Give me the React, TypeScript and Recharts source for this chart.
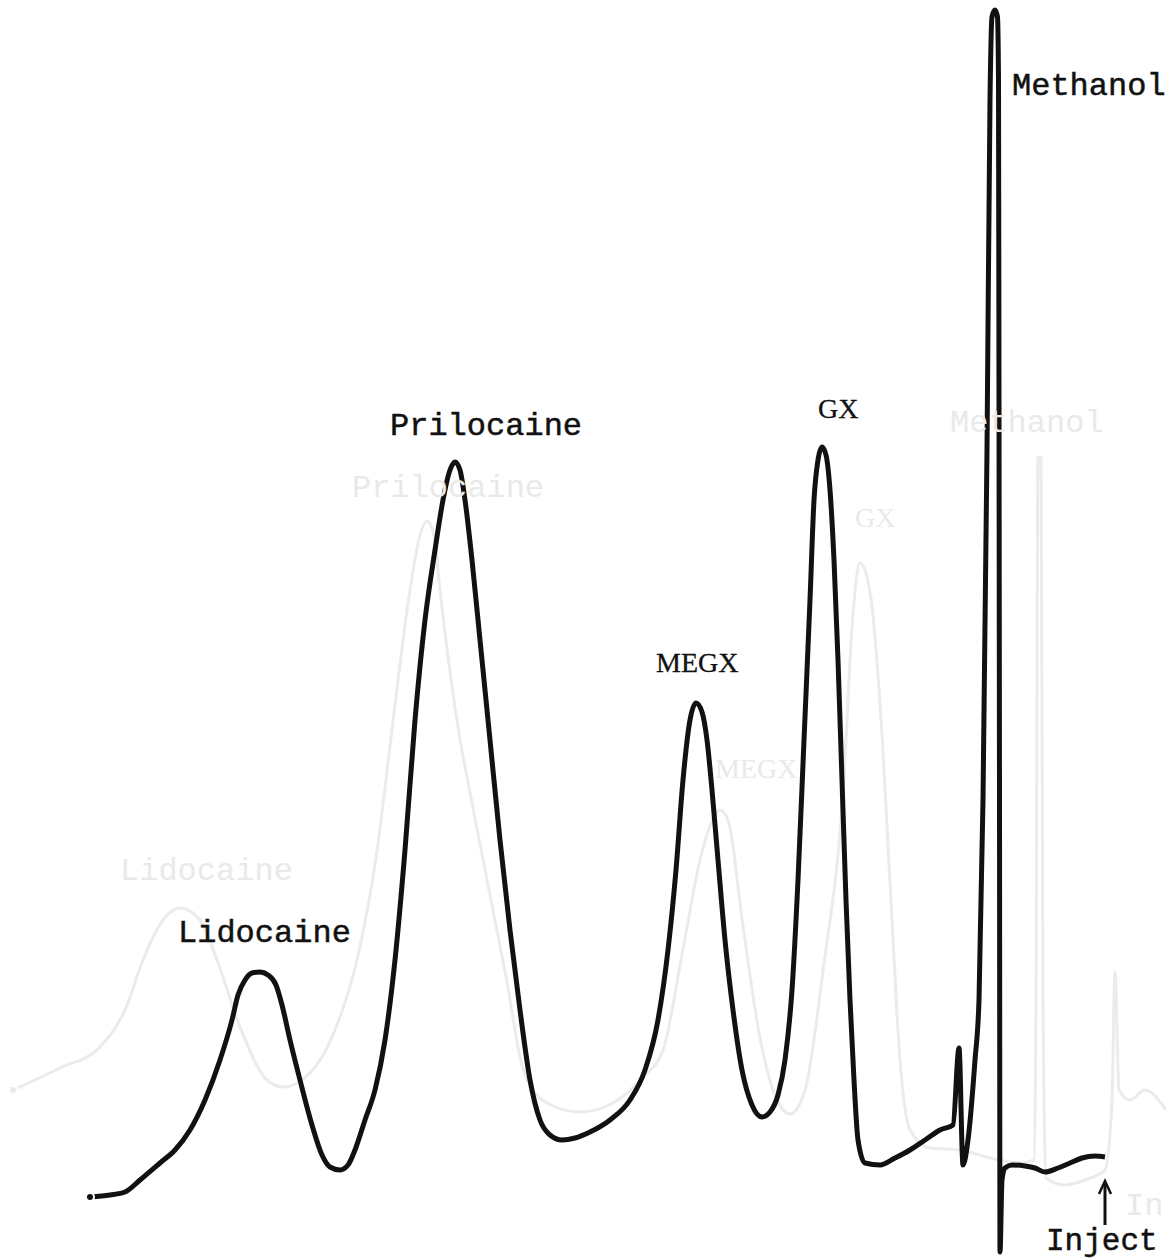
import React from 'react';
import { ComposedChart, Line, Scatter, XAxis, YAxis } from 'recharts';

// retention time (min, counted back from injection) vs detector response (arbitrary units)
const sampleTrace: [number, number][] = [
  [10.15, 6.3], [9.95, 6.5], [9.8, 6.8], [9.65, 8.0], [9.45, 9.7], [9.3, 11.0], [9.15, 13.0],
  [9.0, 16.0], [8.85, 20.0], [8.73, 24.0], [8.67, 26.5], [8.6, 28.0], [8.53, 28.7], [8.45, 28.8],
  [8.37, 28.5], [8.29, 27.5], [8.23, 25.5], [8.15, 22.0], [8.05, 18.0], [7.93, 13.5], [7.83, 10.5],
  [7.75, 9.3], [7.65, 9.0], [7.57, 9.5], [7.5, 11.0], [7.4, 14.0], [7.3, 17.0], [7.2, 22.0],
  [7.1, 30.0], [7.0, 41.0], [6.9, 54.0], [6.8, 64.0], [6.7, 71.0], [6.62, 76.0], [6.55, 79.0],
  [6.5, 79.8], [6.45, 79.0], [6.4, 76.0], [6.33, 70.0], [6.25, 62.0], [6.15, 52.0], [6.05, 42.0],
  [5.95, 33.0], [5.85, 25.0], [5.75, 18.0], [5.65, 14.0], [5.55, 12.5], [5.43, 12.0], [5.3, 12.2],
  [5.15, 12.8], [4.95, 14.0], [4.75, 16.0], [4.6, 19.0], [4.47, 24.0], [4.37, 31.0], [4.29, 39.0],
  [4.22, 48.0], [4.15, 54.0], [4.09, 55.7], [4.03, 54.8], [3.98, 52.0], [3.93, 47.0], [3.87, 40.0],
  [3.8, 32.0], [3.72, 25.0], [3.63, 19.0], [3.53, 15.5], [3.43, 14.3], [3.35, 14.8], [3.27, 16.5],
  [3.2, 20.0], [3.13, 27.0], [3.07, 38.0], [3.01, 52.0], [2.95, 66.0], [2.91, 76.0], [2.87, 80.0],
  [2.83, 81.3], [2.79, 80.5], [2.75, 77.0], [2.71, 70.0], [2.67, 60.0], [2.63, 48.0], [2.59, 36.0],
  [2.55, 26.0], [2.51, 18.0], [2.47, 12.0], [2.4, 9.7], [2.25, 9.5], [2.1, 10.2], [1.95, 11.0],
  [1.8, 12.0], [1.65, 13.0], [1.52, 13.5], [1.46, 21.2], [1.42, 9.5], [1.37, 12.0], [1.3, 20.0],
  [1.26, 26.0], [1.22, 46.0], [1.18, 81.0], [1.15, 116.0], [1.13, 124.3], [1.1, 125.0],
  [1.075, 124.3], [1.065, 118.0], [1.06, 86.0], [1.055, 46.0], [1.05, 0.8], [1.03, 8.0],
  [1.0, 9.2], [0.93, 9.5], [0.8, 9.4], [0.7, 9.2], [0.6, 8.8], [0.47, 9.2], [0.35, 9.7],
  [0.23, 10.2], [0.1, 10.4], [0.0, 10.3],
];

// faint trace showing through from the reverse of the sheet
const showThrough: [number, number][] = [
  [10.92, 17.0], [10.45, 19.2], [10.05, 21.3], [9.8, 25.0], [9.62, 30.0], [9.42, 34.0],
  [9.25, 35.2], [9.05, 34.0], [8.88, 30.0], [8.65, 23.3], [8.38, 18.0], [8.22, 17.3], [7.95, 18.7],
  [7.68, 23.5], [7.48, 30.0], [7.28, 40.9], [7.12, 53.9], [6.95, 67.0], [6.85, 72.5], [6.78, 73.9],
  [6.71, 72.5], [6.65, 67.0], [6.48, 53.9], [6.32, 45.2], [6.15, 36.5], [5.98, 27.8], [5.82, 19.1],
  [5.58, 15.7], [5.25, 14.8], [4.92, 15.7], [4.62, 18.3], [4.42, 21.0], [4.22, 31.1], [4.05, 40.0],
  [3.92, 44.1], [3.85, 45.0], [3.77, 44.0], [3.62, 33.4], [3.45, 22.2], [3.28, 16.0], [3.15, 14.6],
  [3.0, 17.0], [2.82, 28.9], [2.62, 46.8], [2.52, 64.6], [2.45, 69.7], [2.35, 66.8], [2.25, 55.7],
  [2.15, 37.8], [2.05, 20.0], [1.95, 13.0], [1.75, 11.2], [1.45, 11.0], [1.15, 10.2], [0.85, 9.7],
  [0.71, 10.0], [0.69, 26.0], [0.67, 80.3], [0.64, 80.3], [0.62, 26.0], [0.59, 8.2], [0.4, 7.5],
  [0.2, 8.0], [0.0, 9.0], [-0.07, 16.0], [-0.1, 28.8], [-0.14, 17.0], [-0.25, 16.0], [-0.4, 17.0],
  [-0.61, 15.0],
];

const peakNames = ['Lidocaine', 'Prilocaine', 'MEGX', 'GX', 'Methanol'];
const peakLabelTime = [9.27, 7.15, 4.49, 2.87, 0.93];
const peakLabelResp = [31.8, 82.5, 58.8, 84.2, 116.5];

const ghostNames = ['Lidocaine', 'Prilocaine', 'MEGX', 'GX', 'Methanol', 'In'];
const ghostLabelTime = [9.85, 7.53, 3.9, 2.5, 1.55, -0.2];
const ghostLabelResp = [38.0, 76.3, 48.2, 73.3, 82.8, 4.5];

const injectMark = { t: 0.0, r: 10.3, text: 'Inject' };

const toRows = (pts: [number, number][]) => pts.map(([t, r]) => ({ t, r }));
const traceRows = toRows(sampleTrace);
const ghostRows = toRows(showThrough);
const peakRows = peakNames.map((text, i) => ({ t: peakLabelTime[i], r: peakLabelResp[i], text }));
const ghostLabelRows = ghostNames.map((text, i) => ({ t: ghostLabelTime[i], r: ghostLabelResp[i], text }));

const serif = new Set(['MEGX', 'GX']);
const MONO = '"Liberation Mono", monospace';
const SERIF = '"Liberation Serif", serif';

const PeakLabel = (props: any) => {
  const { cx, cy, payload } = props;
  const isSerif = serif.has(payload.text);
  return (
    <text
      x={cx}
      y={cy}
      fill="#111"
      stroke="#111"
      strokeWidth={isSerif ? 0.3 : 0.5}
      fontFamily={isSerif ? SERIF : MONO}
      fontSize={isSerif ? 28 : 32}
    >
      {payload.text}
    </text>
  );
};

const GhostLabel = (props: any) => {
  const { cx, cy, payload } = props;
  const isSerif = serif.has(payload.text);
  return (
    <text x={cx} y={cy} fill="#e9e9e9" fontFamily={isSerif ? SERIF : MONO} fontSize={isSerif ? 28 : 32}>
      {payload.text}
    </text>
  );
};

const InjectLabel = (props: any) => {
  const { cx, cy, payload } = props;
  return (
    <g>
      <line x1={cx} y1={cy + 26} x2={cx} y2={cy + 68} stroke="#111" strokeWidth={3} />
      <path
        d={`M${cx - 6},${cy + 37} L${cx},${cy + 24} L${cx + 6},${cy + 37}`}
        fill="none"
        stroke="#111"
        strokeWidth={2.5}
      />
      <text x={cx - 59} y={cy + 93} fill="#111" stroke="#111" strokeWidth={0.5} fontFamily={MONO} fontSize={31}>
        {payload.text}
      </text>
    </g>
  );
};

const Chromatogram: React.FC = () => (
  <div style={{ position: 'absolute', left: 0, top: 0, background: '#fff' }}>
    <ComposedChart width={1166} height={1260} margin={{ top: 0, right: 0, bottom: 0, left: 0 }}>
      <XAxis dataKey="t" type="number" domain={[-0.61, 11.05]} reversed hide allowDataOverflow />
      <YAxis dataKey="r" type="number" domain={[0, 126]} hide allowDataOverflow />
      <Line
        data={ghostRows}
        dataKey="r"
        type="monotoneX"
        stroke="#ebebeb"
        strokeWidth={3}
        dot={false}
        isAnimationActive={false}
      />
      <Scatter data={ghostLabelRows} shape={GhostLabel} isAnimationActive={false} />
      <Line
        data={traceRows}
        dataKey="r"
        type="monotoneX"
        stroke="#111"
        strokeWidth={5}
        strokeLinejoin="round"
        dot={false}
        isAnimationActive={false}
      />
      <Scatter data={peakRows} shape={PeakLabel} isAnimationActive={false} />
      <Scatter data={[injectMark]} shape={InjectLabel} isAnimationActive={false} />
    </ComposedChart>
  </div>
);

export default function App() {
  return <Chromatogram />;
}
